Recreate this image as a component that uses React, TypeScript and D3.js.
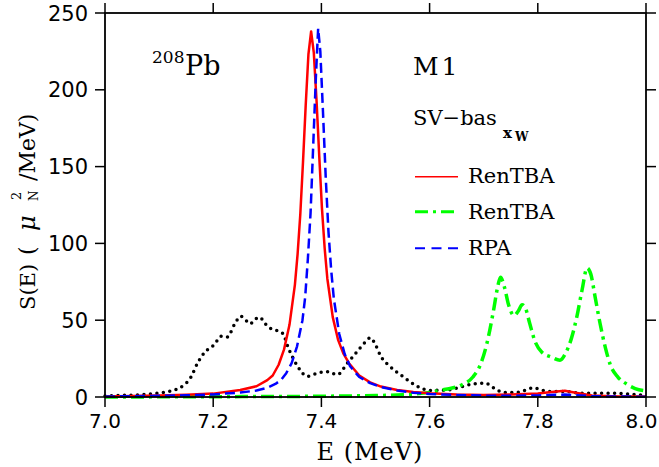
import React from "react";
import * as d3 from "d3";

// ---- data ----
const X_TICKS = [7.0, 7.2, 7.4, 7.6, 7.8, 8.0];
const X_TICK_LABELS = ["7.0", "7.2", "7.4", "7.6", "7.8", "8.0"];
const Y_TICKS = [0, 50, 100, 150, 200, 250];
const Y_TICK_LABELS = ["0", "50", "100", "150", "200", "250"];

const E_RED = [7.0, 7.05, 7.1, 7.15, 7.2, 7.25, 7.28, 7.3, 7.31, 7.321, 7.331, 7.341, 7.351, 7.356, 7.361, 7.366, 7.371, 7.376, 7.381, 7.386, 7.391, 7.396, 7.401, 7.406, 7.411, 7.421, 7.431, 7.441, 7.451, 7.47, 7.49, 7.51, 7.54, 7.57, 7.6, 7.65, 7.7, 7.75, 7.8, 7.83, 7.85, 7.87, 7.9, 7.95, 8.0];
const S_RED = [0.4, 0.6, 0.9, 1.4, 2.2, 4.5, 7, 11, 14, 21, 31, 47, 73, 93, 119, 153, 190, 223, 238, 224, 193, 157, 123, 97, 77, 52, 37, 28, 22, 14, 9.5, 6.8, 4.6, 3.3, 2.5, 1.7, 1.3, 1.6, 2.3, 3.4, 4.1, 2.8, 1.0, 0.4, 0.3];

const E_RPA = [7.0, 7.05, 7.1, 7.15, 7.2, 7.25, 7.28, 7.3, 7.315, 7.325, 7.335, 7.345, 7.355, 7.365, 7.37, 7.375, 7.38, 7.385, 7.39, 7.394, 7.398, 7.403, 7.408, 7.413, 7.418, 7.423, 7.433, 7.443, 7.453, 7.47, 7.49, 7.51, 7.54, 7.57, 7.6, 7.65, 7.7, 7.75, 7.8, 7.83, 7.85, 7.87, 7.9, 7.95, 8.0];
const S_RPA = [0.3, 0.5, 0.8, 1.1, 1.7, 2.9, 4.2, 6, 8.5, 11, 15.5, 22, 33, 50, 65, 90, 120, 165, 210, 240, 225, 185, 143, 108, 83, 64, 41, 28, 20, 13, 9, 6.5, 4.2, 2.8, 2.0, 1.3, 0.9, 0.8, 1.0, 1.4, 1.6, 1.2, 0.5, 0.3, 0.2];

const E_GREEN = [7.0, 7.1, 7.2, 7.3, 7.4, 7.45, 7.5, 7.55, 7.6, 7.63, 7.66, 7.68, 7.695, 7.706, 7.718, 7.726, 7.731, 7.738, 7.746, 7.756, 7.764, 7.771, 7.777, 7.785, 7.795, 7.808, 7.825, 7.841, 7.852, 7.862, 7.872, 7.882, 7.891, 7.898, 7.906, 7.915, 7.925, 7.934, 7.948, 7.964, 7.98, 8.0];
const S_GREEN = [0, 0.1, 0.2, 0.3, 0.5, 0.7, 0.9, 1.5, 3, 5, 8, 13, 22, 35, 56, 72, 78, 72, 60, 53, 56, 60, 58, 48, 36, 29, 26, 24, 29, 38, 52, 70, 84, 80, 65, 48, 32, 21, 13, 8.5, 5.5, 4];

const E_EXP = [7.0, 7.03, 7.066, 7.09, 7.116, 7.135, 7.146, 7.159, 7.171, 7.183, 7.19, 7.202, 7.214, 7.226, 7.239, 7.251, 7.26, 7.268, 7.276, 7.285, 7.292, 7.3, 7.316, 7.328, 7.34, 7.356, 7.374, 7.392, 7.411, 7.429, 7.448, 7.466, 7.482, 7.49, 7.5, 7.509, 7.528, 7.552, 7.577, 7.601, 7.632, 7.657, 7.681, 7.703, 7.718, 7.737, 7.762, 7.778, 7.792, 7.811, 7.829, 7.854, 7.878, 7.94, 7.97, 8.0];
const S_EXP = [0.7, 1.0, 1.5, 2.2, 3.5, 5.5, 7.8, 13, 22, 28.5, 31, 34, 39.5, 39, 47, 52.5, 50, 47.5, 50, 52, 50, 46, 43.5, 41.5, 31, 20, 13.5, 15.5, 16.5, 14.5, 22, 29.5, 36, 38.5, 34, 27, 19.5, 13, 7, 4.3, 4.5, 6.5, 8.5, 9, 6, 3, 3, 4.5, 6, 4.2, 3.5, 3.5, 2.5, 2.4, 1.8, 0.9];

const W = 659;
const H = 467;
const X0 = 105, X1 = 646, Y0 = 397, Y1 = 13;

const SERIF = "'DejaVu Serif', serif";
const SANS = "'DejaVu Sans', sans-serif";

export default function App() {
  const x = d3.scaleLinear().domain([7, 8]).range([X0, X1]);
  const y = d3.scaleLinear().domain([0, 250]).range([Y0, Y1]);

  const mk = (E: number[], S: number[], curve: any) =>
    d3
      .line<number>()
      .x((_, i) => x(E[i]))
      .y((_, i) => y(S[i]))
      .curve(curve)(S) as string;

  const redPath = mk(E_RED, S_RED, d3.curveLinear);
  const rpaPath = mk(E_RPA, S_RPA, d3.curveLinear);
  const greenPath = mk(E_GREEN, S_GREEN, d3.curveMonotoneX);
  const expPath = mk(E_EXP, S_EXP, d3.curveMonotoneX);

  const tickLen = 10;
  const xLabelHalf = 16;

  return (
    <svg
      width={W}
      height={H}
      style={{ position: "absolute", left: 0, top: 0, background: "#fff" }}
    >
      <rect x={0} y={0} width={W} height={H} fill="#fff" />
      {/* curves */}
      <path d={expPath} fill="none" stroke="#000" strokeWidth={3.5} strokeDasharray="0,6.5" strokeLinecap="round" />
      <path d={greenPath} fill="none" stroke="#00ff00" strokeWidth={3.5} strokeDasharray="13,5,3,5" />
      <path d={redPath} fill="none" stroke="#ff0000" strokeWidth={2.5} strokeLinejoin="round" />
      <path d={rpaPath} fill="none" stroke="#0000ff" strokeWidth={2.5} strokeDasharray="10,5" strokeLinejoin="round" />

      {/* frame */}
      <rect x={X0} y={Y1} width={X1 - X0} height={Y0 - Y1} fill="none" stroke="#000" strokeWidth={1.8} />

      {/* x ticks */}
      {X_TICKS.map((t, i) => (
        <g key={"xt" + i}>
          <line x1={x(t)} x2={x(t)} y1={Y0} y2={Y0 + tickLen} stroke="#000" strokeWidth={1.5} />
          <line x1={x(t)} x2={x(t)} y1={Y1} y2={Y1 - tickLen} stroke="#000" strokeWidth={1.5} />
          <text
            x={Math.min(x(t), W - 1.5 - xLabelHalf)}
            y={428}
            textAnchor="middle"
            fontFamily={SANS}
            fontSize={20}
          >
            {X_TICK_LABELS[i]}
          </text>
        </g>
      ))}
      {/* y ticks */}
      {Y_TICKS.map((t, i) => (
        <g key={"yt" + i}>
          <line x1={X0} x2={X0 - tickLen} y1={y(t)} y2={y(t)} stroke="#000" strokeWidth={1.5} />
          <line x1={X1} x2={X1 + tickLen} y1={y(t)} y2={y(t)} stroke="#000" strokeWidth={1.5} />
          <text x={88} y={y(t) + 7.5} textAnchor="end" fontFamily={SANS} fontSize={21}>
            {Y_TICK_LABELS[i]}
          </text>
        </g>
      ))}

      {/* axis titles */}
      <text x={370} y={460} textAnchor="middle" fontFamily={SERIF} fontSize={24} letterSpacing={1}>
        E (MeV)
      </text>
      <g transform="translate(35,0) rotate(-90)" fontFamily={SERIF}>
        <text x={-310} y={0} fontSize={21}>S(E)</text>
        <text x={-255} y={0} fontSize={22}>(</text>
        <text x={-231} y={0} fontSize={24} fontStyle="italic">μ</text>
        <text x={-201} y={3} fontSize={12}>N</text>
        <text x={-200} y={-14} fontSize={13}>2</text>
        <text x={-181} y={0} fontSize={22}>/MeV)</text>
      </g>

      {/* annotations */}
      <text x={152} y={63} fontFamily={SERIF} fontSize={17}>208</text>
      <text x={185} y={75} fontFamily={SERIF} fontSize={27}>Pb</text>
      <text x={413} y={75} fontFamily={SERIF} fontSize={25} letterSpacing={3}>M1</text>
      <text x={413} y={125} fontFamily={SERIF} fontSize={21}>SV−bas</text>
      <text x={503} y={138} fontFamily={SERIF} fontSize={15} fontWeight="bold">x</text>
      <text x={515} y={141} fontFamily={SERIF} fontSize={12} fontWeight="bold">W</text>

      {/* legend */}
      <line x1={415} x2={458} y1={176.7} y2={176.7} stroke="#ff0000" strokeWidth={1.5} />
      <text x={468} y={183} fontFamily={SERIF} fontSize={21}>RenTBA</text>
      <line x1={415} x2={458} y1={211.7} y2={211.7} stroke="#00ff00" strokeWidth={3} strokeDasharray="13,5,3,5" />
      <text x={468} y={219} fontFamily={SERIF} fontSize={21}>RenTBA</text>
      <line x1={415} x2={458} y1={248.3} y2={248.3} stroke="#0000ff" strokeWidth={2} strokeDasharray="10,6.5" />
      <text x={468} y={255} fontFamily={SERIF} fontSize={21}>RPA</text>
    </svg>
  );
}
